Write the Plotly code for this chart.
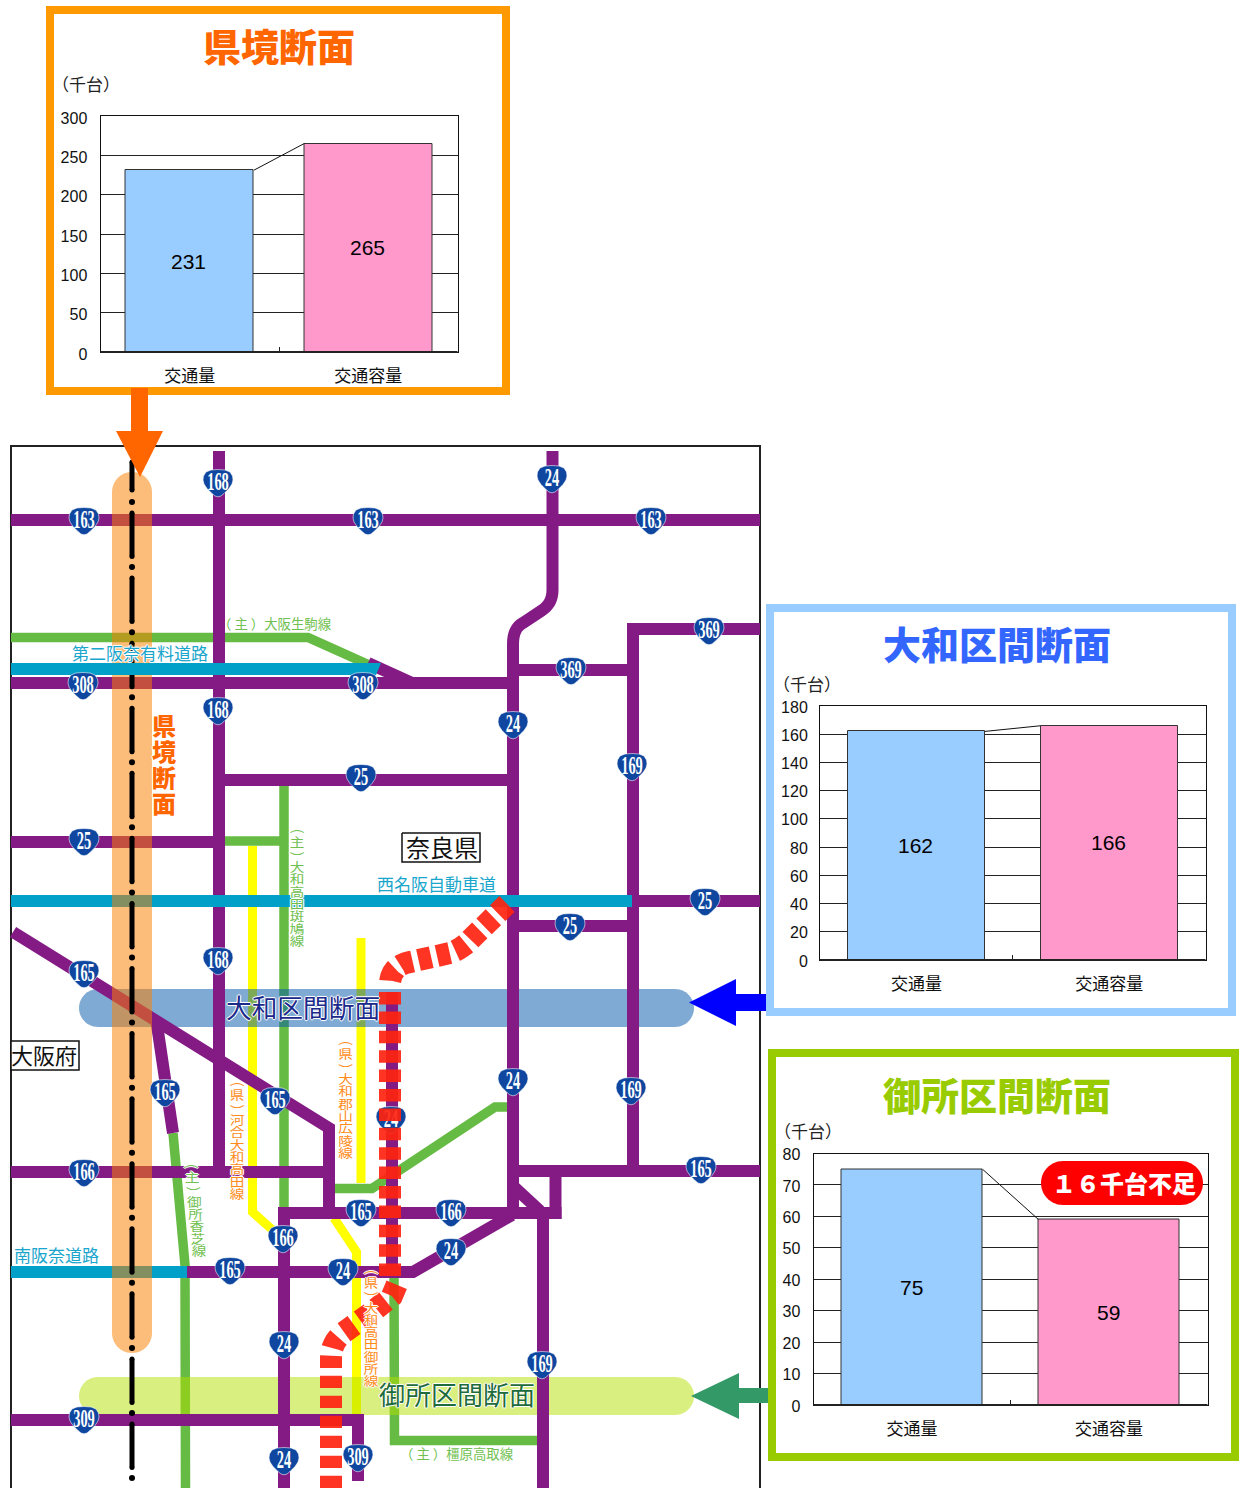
import numpy as np
import plotly.graph_objects as go

W, H = 1239, 1488
JP = "Noto Sans CJK JP"
SANS = "Liberation Sans"

# ---- chart data ----
CATEGORIES = ["交通量", "交通容量"]
KENKYO_VALUES = [231, 265]
YAMATO_VALUES = [162, 166]
GOSE_VALUES = [75, 59]
KENKYO_TICKS = [0, 50, 100, 150, 200, 250, 300]
YAMATO_TICKS = [0, 20, 40, 60, 80, 100, 120, 140, 160, 180]
GOSE_TICKS = [0, 10, 20, 30, 40, 50, 60, 70, 80]


def bez(p0, c, p1, n=9):
    out = []
    for t in np.linspace(0, 1, n):
        out.append(((1 - t) ** 2 * p0[0] + 2 * t * (1 - t) * c[0] + t ** 2 * p1[0],
                    (1 - t) ** 2 * p0[1] + 2 * t * (1 - t) * c[1] + t ** 2 * p1[1]))
    return out


# ---- schematic map (page-pixel coordinates) ----
YELLOW_ROADS = [
    [(252.5, 846), (252.5, 1212), (276, 1233)],
    [(361, 938), (361, 1183)],
    [(334, 1218), (356.5, 1252), (356.5, 1415)],
]
GREEN_ROADS = [
    [(11, 637.5), (308, 637.5), (376, 668)],
    [(225, 841), (284, 841)],
    [(284, 785), (284, 1213)],
    [(173, 1133), (185, 1265), (185.5, 1488)],
    [(335, 1188.5), (372, 1188.5), (495, 1107), (508, 1107)],
    [(394, 1278), (394.5, 1440.5), (538, 1440.5)],
]
ROUTE_24_NORTH = ([(552.5, 451)] + bez((552.5, 590), (552.5, 604), (541, 611))
                  + bez((523, 623), (513, 628), (513, 644)) + [(513, 1216)])
PURPLE_ROADS = [
    [(11, 520), (760, 520)],
    [(219, 451), (219, 1172)],
    ROUTE_24_NORTH,
    [(11, 683), (513, 683)],
    [(368, 663), (412, 683)],
    [(513, 670), (633, 670)],
    [(760, 629), (633, 629), (633, 1172)],
    [(219, 780), (513, 780)],
    [(11, 842), (219, 842)],
    [(633, 901), (760, 901)],
    [(513, 926), (633, 926)],
    [(13, 932), (329, 1128), (329, 1213)],
    [(156, 1018), (173, 1133)],
    [(11, 1172), (329, 1172)],
    [(278, 1213), (561.5, 1213)],
    [(555.5, 1171), (555.5, 1219)],
    [(284, 1213), (284, 1488)],
    [(513, 1171), (760, 1171)],
    [(543, 1213), (543, 1488)],
    [(513, 1186), (540, 1211)],
    [(185, 1272), (413, 1272), (512, 1215)],
    [(11, 1420), (358, 1420), (358, 1481)],
    [(392, 992), (392, 1272)],
]
EXPRESSWAYS = [
    [(11, 901), (632, 901)],
    [(11, 1272), (187, 1272)],
]
SECOND_HANNA = [(11, 663), (381, 663), (376, 675), (11, 675)]
RED_STRAIGHT = [(390, 992), (390, 1277)]
RED_CURVE_UPPER = ([(507, 904), (472, 938)] + bez((472, 938), (462, 949), (450, 953))
                   + [(410, 962)] + bez((410, 962), (390, 966), (390, 985)))
RED_CURVE_LOWER = ([(331, 1488), (331, 1358)] + bez((331, 1358), (331, 1343), (343, 1333))
                   + [(372, 1312), (392, 1296), (397, 1284)])

SHIELD_NUMBERS = ["168", "163", "163", "24", "163", "369", "308", "308", "369", "168", "24", "169",
                  "25", "25", "25", "25", "168", "165", "165", "165", "24", "169", "24", "165",
                  "166", "166", "165", "166", "24", "165", "24", "24", "169", "309", "24", "309"]
SHIELD_X = [218, 84, 368, 552, 651, 709, 83, 363, 571, 218, 513, 632,
            361, 84, 570, 705, 218, 84, 165, 275, 513, 631, 391, 701,
            84, 283, 361, 451, 451, 230, 343, 284, 542, 84, 284, 358]
SHIELD_Y = [483, 521, 521, 479, 521, 631, 686, 686, 671, 711, 725, 767,
            778, 842, 927, 902, 961, 974, 1093, 1101, 1082, 1091, 1120, 1170,
            1173, 1239, 1213, 1213, 1252, 1271, 1272, 1345, 1365, 1420, 1461, 1458]

PURPLE = "#841A84"
GREEN = "#66BB44"
LABEL_GREEN = "#70BF50"
YELLOW = "#FFFF00"
BLUE = "#00A0C8"
RED = "rgba(255,35,15,0.92)"
HALO = "1px 0 0 white, -1px 0 0 white, 0 1px 0 white, 0 -1px 0 white, 0 0 2px white"

fig = go.Figure()


def paths(pieces):
    xs, ys = [], []
    for piece in pieces:
        xs += [float(p[0]) for p in piece] + [None]
        ys += [float(p[1]) for p in piece] + [None]
    return xs, ys


def add_lines(pieces, color, width, dash=None):
    xs, ys = paths(pieces)
    fig.add_trace(go.Scatter(x=xs, y=ys, mode="lines",
                             line=dict(color=color, width=width, dash=dash, simplify=False),
                             hoverinfo="skip", showlegend=False))


def add_fill(pieces, fill, line=None, lw=0):
    xs, ys = paths(pieces)
    fig.add_trace(go.Scatter(x=xs, y=ys, mode="lines", fill="toself", fillcolor=fill,
                             line=dict(color=line or "rgba(0,0,0,0)", width=lw, simplify=False),
                             hoverinfo="skip", showlegend=False))


def stadium(x0, y0, x1, y1):
    r = min(x1 - x0, y1 - y0) / 2
    pts = []
    for cx, cy, a0 in [(x1 - r, y0 + r, -90), (x1 - r, y1 - r, 0), (x0 + r, y1 - r, 90), (x0 + r, y0 + r, 180)]:
        for a in np.radians(np.linspace(a0, a0 + 90, 14)):
            pts.append((float(cx + r * np.cos(a)), float(cy + r * np.sin(a))))
    pts.append(pts[0])
    return pts


def box(x0, y0, x1, y1):
    return [(x0, y0), (x1, y0), (x1, y1), (x0, y1), (x0, y0)]


SHIELD_HALF = [(0, -13.5), (7, -13), (12, -11), (14.5, -7), (15, -3), (14, 1), (11, 5.5),
               (6, 10.5), (3, 13), (0, 13.8)]


def shield(cx, cy):
    right = [(cx + a, cy + b) for a, b in SHIELD_HALF]
    left = [(cx - a, cy + b) for a, b in reversed(SHIELD_HALF[:-1])]
    return right + left


# ---- map layers, bottom to top ----
add_lines([[(11, 1488), (11, 446), (760, 446), (760, 1488)]], "#222222", 2)
add_lines(YELLOW_ROADS, YELLOW, 9)
add_lines(GREEN_ROADS, GREEN, 9.5)
add_fill([stadium(79, 989, 694, 1027)], "rgba(0,85,170,0.5)")
add_fill([stadium(79, 1377, 694, 1415)], "rgba(179,224,0,0.5)")
add_lines(PURPLE_ROADS, PURPLE, 12)
add_lines(EXPRESSWAYS, BLUE, 12)
add_fill([stadium(112, 472, 152, 1353)], "rgba(251,128,0,0.52)")

dash_segments = [[(132, 462), (132, 490)]]
dash_ends_x, dash_ends_y, dot_y = [132, 132], [462, 490], []
for k in range(15):
    y0 = 513 + 65.07 * k
    dash_segments.append([(132, y0), (132, y0 + 43.5)])
    dash_ends_x += [132, 132]
    dash_ends_y += [y0, y0 + 43.5]
for k in range(16):
    dot_y.append(502 + 65.07 * k)
add_lines(dash_segments, "#000000", 5)
fig.add_trace(go.Scatter(x=dash_ends_x, y=dash_ends_y, mode="markers",
                         marker=dict(color="#000000", size=5), hoverinfo="skip", showlegend=False))
fig.add_trace(go.Scatter(x=[132] * len(dot_y), y=dot_y, mode="markers",
                         marker=dict(color="#000000", size=6), hoverinfo="skip", showlegend=False))

add_fill([SECOND_HANNA + [SECOND_HANNA[0]]], BLUE)

add_fill([shield(x, y) for x, y in zip(SHIELD_X, SHIELD_Y)], "#0F47A0", "rgba(255,255,255,0.8)", 0.7)
fig.add_trace(go.Scatter(x=SHIELD_X, y=[y + 1 for y in SHIELD_Y], mode="text", text=SHIELD_NUMBERS,
                         textposition="middle center",
                         textfont=dict(family="Liberation Sans Narrow", size=17, color="white", weight="bold"),
                         hoverinfo="skip", showlegend=False))

add_lines([RED_STRAIGHT], RED, 22, "12.5px,6.9px")
add_lines([RED_CURVE_UPPER], RED, 22, "13px,6px")
add_lines([RED_CURVE_LOWER], RED, 22, "12.3px,7.7px")

add_fill([box(402, 833, 480, 862), box(11, 1041, 79, 1070)], "white", "#111111", 1.5)


def vertical(text, x0, y0, x1, y1, color):
    n = len(text)
    xs = [x0 + (x1 - x0) * i / (n - 1) for i in range(n)]
    ys = [y0 + (y1 - y0) * i / (n - 1) for i in range(n)]
    ys = [y - 3 if ch == "︵" else y + 3 if ch == "︶" else y for ch, y in zip(text, ys)]
    fig.add_trace(go.Scatter(x=xs, y=ys, mode="text", text=list(text), textposition="middle center",
                             textfont=dict(family=JP, size=12, color=color, shadow=HALO),
                             hoverinfo="skip", showlegend=False))


vertical("︵主︶大和高田斑鳩線", 297, 832, 297, 943, LABEL_GREEN)
vertical("︵県︶河合大和高田線", 237, 1085, 237, 1196, "#FF8C1A")
vertical("︵県︶大和郡山広陵線", 345.5, 1044, 345.5, 1155, "#FF8C1A")
vertical("︵主︶御所香芝線", 191, 1167, 199, 1253, LABEL_GREEN)
vertical("︵県︶大和高田御所線", 371, 1273, 371, 1383, "#FF8C1A")

# ---- panels and arrows ----
add_fill([box(46, 6, 510, 395)], "#FF9900")
add_fill([box(54, 14, 502, 387)], "white")
add_fill([box(766, 604, 1236, 1016)], "#99CCFF")
add_fill([box(774, 612, 1228, 1008)], "white")
add_fill([box(768, 1049, 1239, 1461)], "#99CC00")
add_fill([box(776, 1057, 1231, 1453)], "white")
add_fill([[(131, 388), (148, 388), (148, 431), (163, 431), (140, 477), (116, 431), (131, 431), (131, 388)]], "#FF6600")
add_fill([[(766, 994), (736, 994), (736, 979), (689, 1002.5), (736, 1026), (736, 1011), (766, 1011), (766, 994)]], "#0000FF")
add_fill([[(768, 1388), (739, 1388), (739, 1373), (691, 1396), (739, 1419), (739, 1403), (768, 1403), (768, 1388)]], "#339966")

ann = []


# ---- bar charts ----
def add_bars(idx, values, ticks, ymax, x0, x1, y0, y1, bar_w, ylabel_gap, shift):
    xn = f"x{idx}"
    yn = f"y{idx}"
    fig.add_trace(go.Bar(x=[0, 1], y=values, xaxis=xn, yaxis=yn, width=bar_w,
                         marker=dict(color=["#99CCFF", "#FF99CC"], line=dict(color="#333333", width=1)),
                         hoverinfo="skip", showlegend=False))
    fig.add_trace(go.Scatter(x=[bar_w / 2, 1 - bar_w / 2], y=values, xaxis=xn, yaxis=yn, mode="lines",
                             line=dict(color="#111111", width=1), hoverinfo="skip", showlegend=False))
    for i, v in enumerate(values):
        ann.append(dict(x=i, y=v / 2, xref=xn, yref=yn, xshift=-1, text=str(v), showarrow=False,
                        xanchor="center", yanchor="middle", font=dict(family=SANS, size=21, color="black")))
    fig.update_layout({
        f"xaxis{idx}": dict(domain=[x0 / W, x1 / W], range=[-0.5, 1.5], anchor=yn, tickmode="array",
                            tickvals=[0, 0.5, 1], ticktext=[CATEGORIES[0], "", CATEGORIES[1]],
                            ticks="inside", ticklen=5, tickcolor="#222222", tickwidth=1,
                            showgrid=False, zeroline=False, showline=True, mirror=True, linecolor="#111111",
                            linewidth=1, layer="below traces", ticklabelstandoff=9, fixedrange=True,
                            automargin=False,
                            tickfont=dict(family=JP, size=17, color="#111111")),
        f"yaxis{idx}": dict(domain=[1 - y1 / H, 1 - y0 / H], range=[0, ymax], anchor=xn, tickmode="array",
                            tickvals=ticks, ticktext=[str(t) for t in ticks], ticks="",
                            showgrid=True, gridcolor="#222222", gridwidth=1, zeroline=False,
                            showline=True, mirror=True, linecolor="#111111", linewidth=1, layer="below traces",
                            ticklabelstandoff=ylabel_gap, ticklabelshift=shift, fixedrange=True, automargin=False,
                            tickfont=dict(family=SANS, size=16, color="#111111")),
    })


add_bars(2, KENKYO_VALUES, KENKYO_TICKS, 300, 100.5, 457.5, 116, 352, 0.717, 9, 2)
add_bars(3, YAMATO_VALUES, YAMATO_TICKS, 180, 820, 1205.5, 706, 960, 0.712, 8, 1)
add_bars(4, GOSE_VALUES, GOSE_TICKS, 80, 813.5, 1207.5, 1153.5, 1405, 0.716, 9, 1)


# ---- text ----
def label(x, y, text, size, color, bold=False, halo=False, family=JP):
    f = dict(family=family, size=size, color=color, weight=900 if bold else "normal")
    if halo:
        f["shadow"] = HALO
    ann.append(dict(x=x, y=y, xref="x", yref="y", text=text, showarrow=False, xanchor="center", yanchor="middle",
                    font=f))


label(279, 44, "県境断面", 38, "#FF6600", True)
label(997, 642, "大和区間断面", 38, "#3366FF", True)
label(997, 1093, "御所区間断面", 38, "#99CC00", True)
label(86, 83, "（千台）", 17, "#222222")
label(807, 683, "（千台）", 17, "#222222")
label(808, 1130, "（千台）", 17, "#222222")
label(1124, 1182, "１６千台不足", 24, "white", True)

label(275, 623, "（ 主 ）大阪生駒線", 13.4, LABEL_GREEN, halo=True)
label(139.5, 652, "第二阪奈有料道路", 17, "#1AA6CC", halo=True)
label(436, 883.5, "西名阪自動車道", 17, "#1AA6CC", halo=True)
label(56, 1254.5, "南阪奈道路", 17, "#1AA6CC", halo=True)
label(457, 1452.5, "（ 主 ）橿原高取線", 13.4, LABEL_GREEN, halo=True)
label(442, 846, "奈良県", 24, "#111111")
label(43.5, 1054, "大阪府", 22, "#111111")
label(303, 1006, "大和区間断面", 25.7, "#1B2A8A", halo=True)
label(457, 1393, "御所区間断面", 26, "#1E6B3C", halo=True)

for ch, py in zip("県境断面", [724, 750, 776, 802]):
    label(164, py, ch, 24, "#FF6600", True, True)

# ---- shapes above the charts ----
shapes = []
for x0, x1, y in [(100.5, 457.5, 352), (820, 1205.5, 960), (813.5, 1207.5, 1405)]:
    shapes.append(dict(type="line", xref="x", yref="y", x0=x0, x1=x1, y0=y, y1=y,
                       line=dict(color="#222222", width=2)))
pill = stadium(1041, 1161, 1203, 1205)
shapes.append(dict(type="path", xref="x", yref="y", fillcolor="#FF0000", line=dict(width=0),
                   path="M " + " L ".join(f"{px:.1f},{py:.1f}" for px, py in pill) + " Z"))

fig.update_layout(
    width=W, height=H, margin=dict(l=0, r=0, t=0, b=0, pad=0), autosize=False,
    paper_bgcolor="white", plot_bgcolor="rgba(0,0,0,0)", showlegend=False, hovermode=False,
    xaxis=dict(range=[0, W], domain=[0, 1], visible=False, fixedrange=True, automargin=False),
    yaxis=dict(range=[H, 0], domain=[0, 1], visible=False, fixedrange=True, automargin=False),
    annotations=ann, shapes=shapes, bargap=0,
)

POST = """
document.body.style.margin='0';
document.body.style.overflow='hidden';
document.querySelectorAll('.textpoint text').forEach(function(t){
  var fam=t.style.fontFamily||'';
  var x=parseFloat(t.getAttribute('x')), y;
  if(fam.indexOf('Narrow')>=0){
    y=parseFloat(t.getAttribute('y'))-5;
    t.setAttribute('transform','translate('+x+' '+y+') scale(0.85 1.45) translate('+(-x)+' '+(-y)+')');
  } else if(fam.indexOf('CJK')>=0){
    y=parseFloat(t.getAttribute('y'))-4;
    t.setAttribute('transform','translate('+x+' '+y+') scale(1.22 1) translate('+(-x)+' '+(-y)+')');
  }
});
"""
fig.write_html("out.html", post_script=POST, config={"displayModeBar": False})
